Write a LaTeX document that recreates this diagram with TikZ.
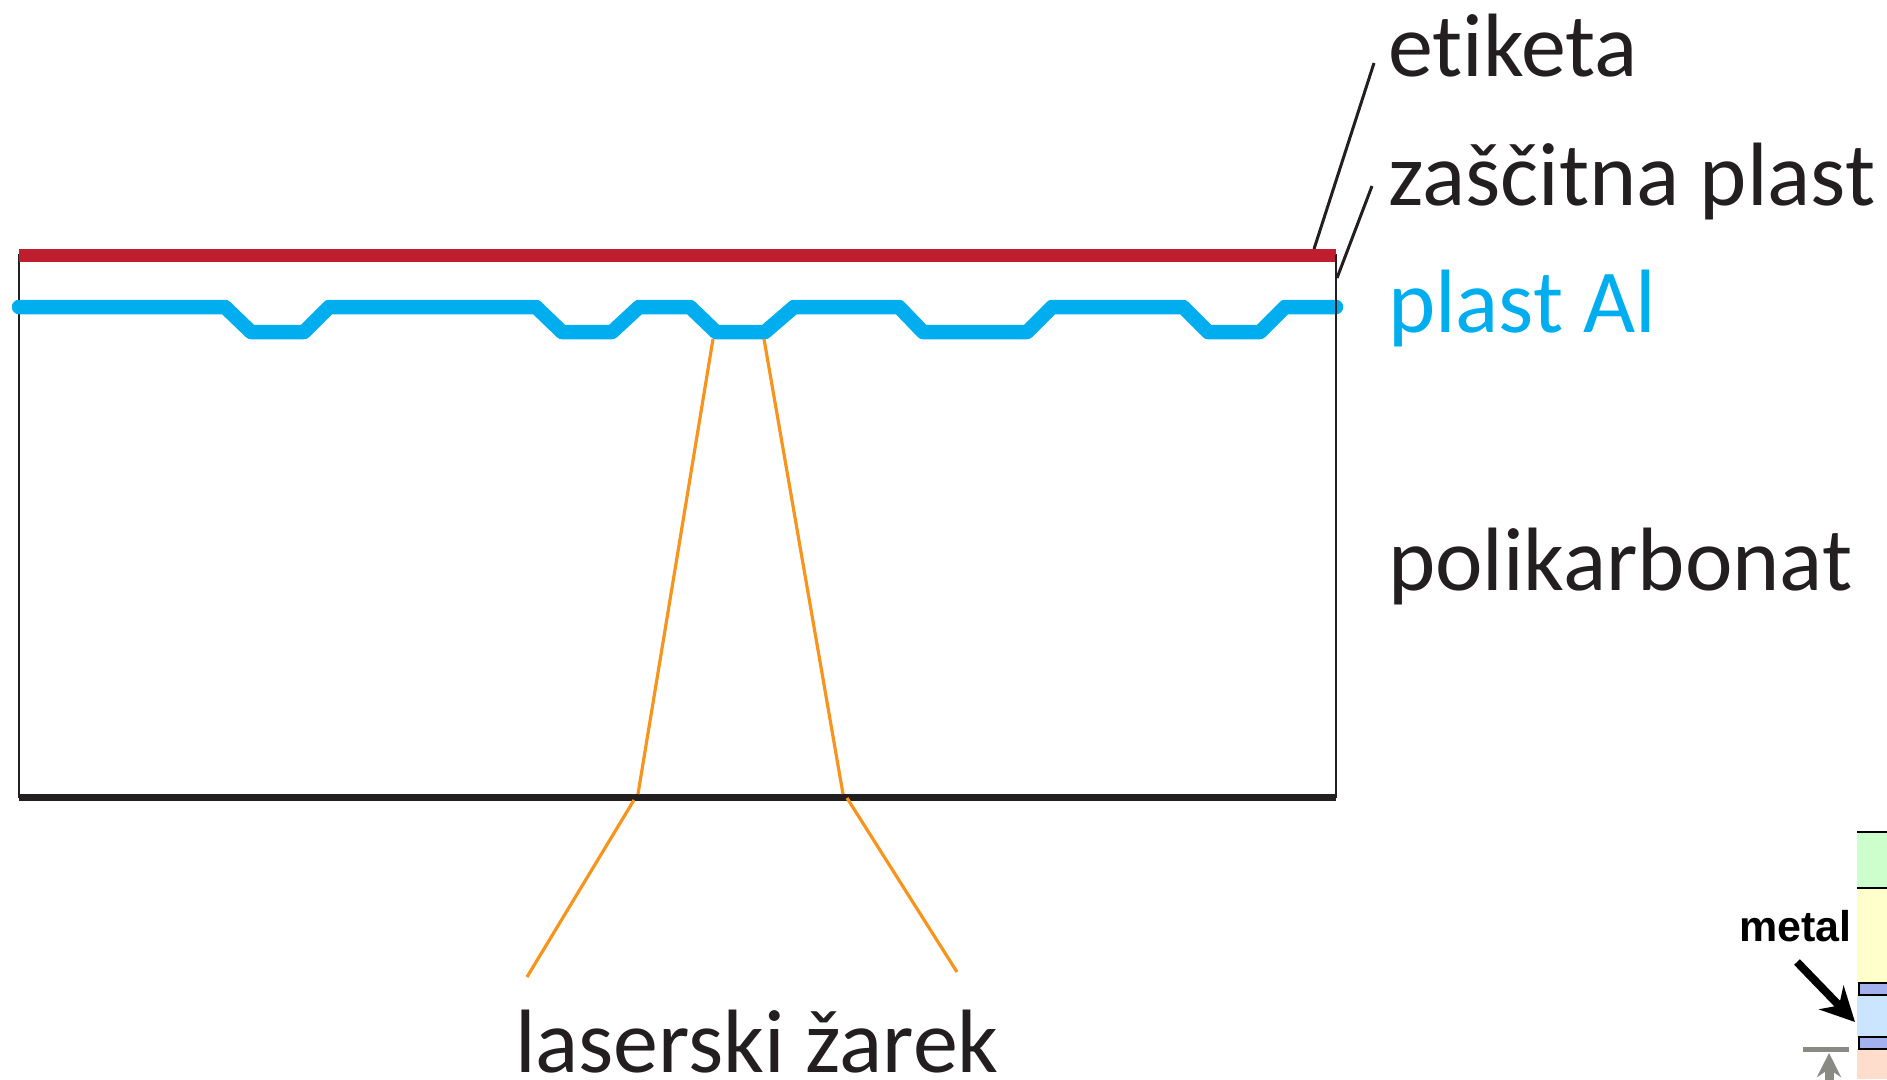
\documentclass[tikz,border=0pt]{standalone}
\usepackage{fontspec}
\setmainfont[Ligatures=NoCommon]{Carlito}
\newfontfamily\helv{Liberation Sans}
\usepackage{xcolor}
\definecolor{LabelInk}{HTML}{231F20}
\definecolor{EtiketaRed}{HTML}{BE1E2D}
\definecolor{AlBlue}{HTML}{00AEEF}
\definecolor{LaserOrange}{HTML}{F7941D}
\definecolor{MintFill}{HTML}{CCFFCC}
\definecolor{CreamFill}{HTML}{FFFFCC}
\definecolor{SkyFill}{HTML}{CCE5FF}
\definecolor{SalmonFill}{HTML}{FFDDCC}
\definecolor{MetalFill}{HTML}{A3B1EE}
\definecolor{MarkGrey}{HTML}{8A8A85}
\usetikzlibrary{positioning, calc, arrows.meta}
\tikzstyle{label} = [anchor=base west, inner sep=0pt, outer sep=0pt, text=LabelInk, font=\fontsize{90}{90}\selectfont]
\tikzstyle{leader} = [color=LabelInk, line width=3pt]
\tikzstyle{ray} = [color=LaserOrange, line width=3.2pt]
\begin{document}
\begin{tikzpicture}[x=1pt, y=-1pt]
        \useasboundingbox (0,0) rectangle (1887,1079);

        % Disc layers
        \coordinate (frameTL) at (19,255);
        \coordinate (frameBR) at (1336,797);
        \draw [color=LabelInk, line width=1.6pt] (frameTL) rectangle (frameBR);
        \fill [EtiketaRed] (19,249) rectangle (1336,262);
        \draw [color=AlBlue, line width=14.5pt, line cap=round, line join=round] (19,307) -- (225,307) -- (251,332) -- (304,332) -- (329,307) -- (536,307) -- (562,332) -- (612,332) -- (639,307) -- (690,307) -- (716,332) -- (765,332) -- (794,307) -- (899,307) -- (923,332) -- (1027,332) -- (1052,307) -- (1183,307) -- (1208,332) -- (1260,332) -- (1285,307) -- (1336,307);
        \draw [color=LabelInk, line width=1.6pt] (1336,255) -- (1336,797);
        \draw [color=LabelInk, line width=7pt] (19,797) -- (1336,797);

        % Labels
        \node [label] (etiketa) at (1388,76) {etiketa};
        \node [label] (zascitna) at (1388,205) {zaščitna plast};
        \node [label, text=AlBlue] (plastal) at (1388,332) {plast Al};
        \node [label] (polikarbonat) at (1388,590) {polikarbonat};
        \node [label] (laser) at (515,1072) {laserski žarek};

        % Leaders
        \coordinate (etiketaEnd) at (1314,249);
        \coordinate (zascitnaEnd) at (1337,278);
        \draw [leader] (1374,63) -- (etiketaEnd);
        \draw [leader] (1372,186) -- (zascitnaEnd);

        % Laser beam
        \draw [ray] (713,339) -- (638,794);
        \draw [ray] (764,339) -- (843,794);
        \draw [ray] (634,800) -- (527,977);
        \draw [ray] (847,798) -- (957,972);

        % Neighbouring figure at the edge
        \fill [MintFill] (1857,832) rectangle (1887,888);
        \fill [CreamFill] (1857,888) rectangle (1887,982);
        \fill [SkyFill] (1857,995) rectangle (1887,1037);
        \fill [SalmonFill] (1857,1049) rectangle (1887,1079);
        \draw [line width=2.5pt] (1857,832) -- (1887,832);
        \draw [line width=2.5pt] (1857,888) -- (1887,888);
        \draw [fill=MetalFill, line width=2.5pt] (1887,983) -- (1859,983) -- (1859,995) -- (1887,995);
        \draw [fill=MetalFill, line width=2.5pt] (1887,1037) -- (1859,1037) -- (1859,1049) -- (1887,1049);
        \node [anchor=base west, inner sep=0pt, font=\helv\bfseries\fontsize{43}{43}\selectfont] (metal) at (1739,941) {metal};
        \coordinate (metalTip) at (1855,1022);
        \draw [-{Stealth[length=34pt, width=34pt]}, line width=8pt] (1797,962) -- (metalTip);
        \draw [color=MarkGrey, line width=5pt] (1803,1049) -- (1849,1049);
        \draw [color=MarkGrey, -{Stealth[length=24pt, width=24pt]}, line width=9pt] (1829,1085) -- (1829,1053);
\end{tikzpicture}
\end{document}
